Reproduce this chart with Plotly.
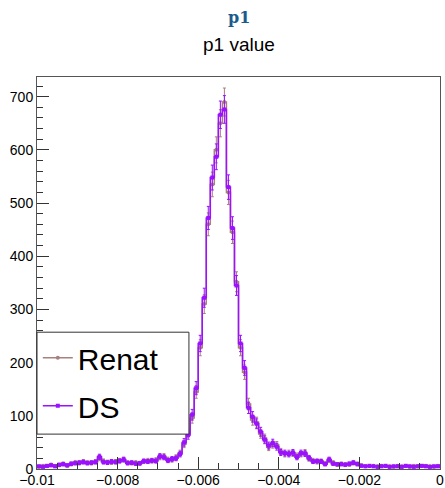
import numpy as np
import plotly.graph_objects as go

# histogram binning: 100 bins from -0.01 to 0
bin_lo = -0.01
bin_hi = 0.0
n_bins = 100

ds_counts = [5, 4, 6, 7, 5, 8, 9, 7, 10, 11,
             12, 13, 11, 12, 13, 23, 13, 12, 14, 13,
             15, 18, 11, 12, 10, 11, 15, 14, 16, 15,
             24, 22, 16, 19, 20, 28, 50, 64, 102, 152,
             236, 322, 472, 548, 587, 666, 676, 530, 453, 345,
             236, 190, 115, 98, 85, 70, 55, 44, 49, 42,
             31, 30, 28, 31, 22, 30, 29, 21, 14, 15,
             14, 9, 18, 10, 9, 9, 8, 10, 12, 9,
             6, 5, 6, 5, 4, 5, 6, 4, 5, 5,
             4, 6, 5, 4, 5, 6, 5, 4, 5, 5]

renat_counts = [4, 6, 5, 8, 6, 7, 10, 6, 9, 12,
                11, 14, 12, 11, 14, 20, 15, 13, 12, 14,
                16, 17, 12, 11, 12, 10, 14, 16, 15, 17,
                22, 24, 18, 17, 22, 30, 47, 68, 96, 145,
                228, 310, 460, 535, 600, 650, 690, 520, 445, 352,
                228, 182, 122, 92, 88, 66, 58, 41, 46, 45,
                33, 28, 30, 29, 25, 28, 31, 19, 16, 13,
                15, 11, 16, 12, 8, 10, 9, 8, 11, 10,
                7, 5, 5, 6, 5, 6, 5, 5, 4, 6,
                5, 5, 4, 6, 5, 5, 6, 5, 4, 6]

x_tick_vals = [-0.01, -0.008, -0.006, -0.004, -0.002, 0]
x_tick_text = ["\u22120.01", "\u22120.008", "\u22120.006", "\u22120.004", "\u22120.002", "0"]
y_tick_vals = [0, 100, 200, 300, 400, 500, 600, 700]

edges = np.linspace(bin_lo, bin_hi, n_bins + 1)
centers = 0.5 * (edges[:-1] + edges[1:])

renat_col = "#a8807c"
ds_col = "#9b10ff"

fig = go.Figure()
for name, vals, col, sym in [("Renat", renat_counts, renat_col, "circle"),
                             ("DS", ds_counts, ds_col, "square")]:
    v = np.array(vals, dtype=float)
    fig.add_trace(go.Scatter(
        x=centers, y=v, name=name, mode="lines+markers",
        line=dict(color=col, width=1.5, shape="hvh"),
        marker=dict(color=col, symbol=sym, size=4),
        error_y=dict(type="data", array=np.sqrt(v), color=col, thickness=1, width=1.5),
        legendgroup=name,
    ))

fig.update_layout(
    width=445, height=488,
    margin=dict(l=37, r=5, t=77, b=19, autoexpand=False),
    paper_bgcolor="white", plot_bgcolor="white",
    font=dict(family="Liberation Sans, Arial, sans-serif", size=14, color="black"),
    showlegend=True,
    legend=dict(x=0.002, y=0.350, xanchor="left", yanchor="top",
                bgcolor="rgba(0,0,0,0)", borderwidth=0,
                font=dict(size=30, color="black"), tracegroupgap=6,
                itemwidth=30),
    shapes=[dict(type="rect", xref="paper", yref="paper",
                 x0=0.0, x1=0.377, y0=0.089, y1=0.349, layer="above",
                 fillcolor="white", line=dict(color="#333333", width=1))],
    annotations=[
        dict(text="<b>p1</b>", xref="paper", yref="paper", x=0.5, y=1.153,
             xanchor="center", yanchor="middle", showarrow=False,
             font=dict(family="DejaVu Serif", size=16, color="#1d5a8c")),
        dict(text="p1 value", xref="paper", yref="paper", x=0.5, y=1.082,
             xanchor="center", yanchor="middle", showarrow=False,
             font=dict(family="Liberation Sans, Arial", size=19, color="black")),
    ],
)

fig.update_xaxes(range=[bin_lo, bin_hi], tickvals=x_tick_vals, ticktext=x_tick_text,
                 ticks="inside", ticklen=12, tickcolor="#333333", automargin=False,
                 ticklabelstandoff=-2,
                 minor=dict(dtick=0.0005, tick0=0, ticks="inside", ticklen=6, tickcolor="#333333"),
                 showline=True, linecolor="#555555", linewidth=1, mirror=True,
                 showgrid=False, zeroline=False, tickfont=dict(size=14))
fig.update_yaxes(range=[0, 737], tickvals=y_tick_vals, automargin=False,
                 ticks="inside", ticklen=12, tickcolor="#333333",
                 minor=dict(dtick=20, tick0=0, ticks="inside", ticklen=6, tickcolor="#333333"),
                 showline=True, linecolor="#555555", linewidth=1, mirror=True,
                 showgrid=False, zeroline=False, tickfont=dict(size=14))

fig.write_html("out.html")
